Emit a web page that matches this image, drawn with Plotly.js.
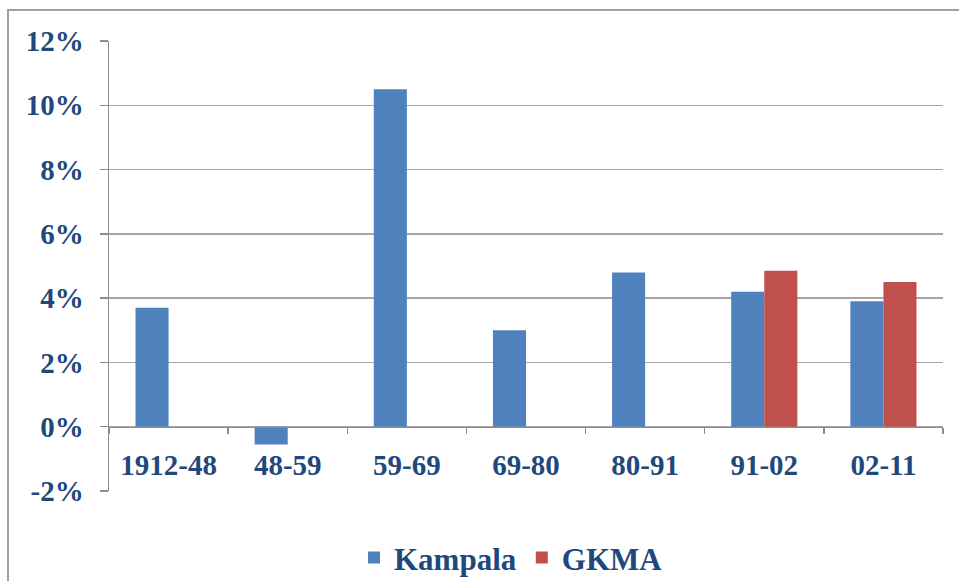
<!DOCTYPE html>
<html>
<head>
<meta charset="utf-8">
<script src="https://cdn.plot.ly/plotly-3.0.1.min.js"></script>
<style>
html,body{margin:0;padding:0;background:#fff;overflow:hidden;}
#chart{width:959px;height:581px;position:absolute;left:0;top:0;}
#frame{position:absolute;left:7px;top:9px;width:980px;height:600px;border-top:2px solid #a0a0a0;border-left:2px solid #a0a0a0;pointer-events:none;}
</style>
</head>
<body>
<div id="chart"></div>
<div id="frame"></div>
<script>
var periods = ['1912-48', '48-59', '59-69', '69-80', '80-91', '91-02', '02-11'];
var kampala = [3.7, -0.55, 10.5, 3.0, 4.8, 4.2, 3.9];
var gkma = [null, null, null, null, null, 4.85, 4.5];
var yTickVals = [-2, 0, 2, 4, 6, 8, 10, 12];
var yTickText = ['-2%', '0%', '2%', '4%', '6%', '8%', '10%', '12%'];

var fontFam = '"Liberation Serif", "Times New Roman", serif';
var textCol = '#1f497d';

var traces = [
  {type: 'bar', name: 'Kampala', x: periods, y: kampala,
   marker: {color: '#4f81bd'}, hoverinfo: 'x+y'},
  {type: 'bar', name: 'GKMA', x: periods, y: gkma,
   marker: {color: '#c0504d'}, hoverinfo: 'x+y'}
];

var layout = {
  width: 959, height: 581,
  margin: {l: 109, r: 16, t: 41, b: 90, autoexpand: false},
  paper_bgcolor: '#ffffff', plot_bgcolor: '#ffffff',
  barmode: 'group', bargap: 0.445, bargroupgap: 0,
  showlegend: true,
  legend: {orientation: 'h', x: 0.482, xanchor: 'center',
           yref: 'container', y: 0.04, yanchor: 'middle',
           font: {family: fontFam, size: 31, color: textCol, weight: 'bold'},
           itemwidth: 30, tracegroupgap: 0},
  xaxis: {
    type: 'category', anchor: 'free', position: 2/14,
    showline: true, linecolor: '#8c8c8c', linewidth: 1.5,
    ticks: 'outside', tickson: 'boundaries', ticklen: 6, tickcolor: '#8c8c8c', tickwidth: 1.5,
    ticklabelstandoff: 12,
    showgrid: false, zeroline: false,
    tickfont: {family: fontFam, size: 29, color: textCol, weight: 'bold'}
  },
  yaxis: {
    range: [-2, 12], tickvals: yTickVals, ticktext: yTickText,
    showline: true, linecolor: '#8c8c8c', linewidth: 1.5,
    ticks: 'outside', ticklen: 8, tickcolor: '#8c8c8c', tickwidth: 1.5,
    ticklabelstandoff: 10,
    showgrid: true, gridcolor: '#a6a6a6', gridwidth: 1.5,
    zeroline: false,
    tickfont: {family: fontFam, size: 29, color: textCol, weight: 'bold'}
  }
};

Plotly.newPlot('chart', traces, layout, {displayModeBar: false, staticPlot: true});
</script>
</body>
</html>
